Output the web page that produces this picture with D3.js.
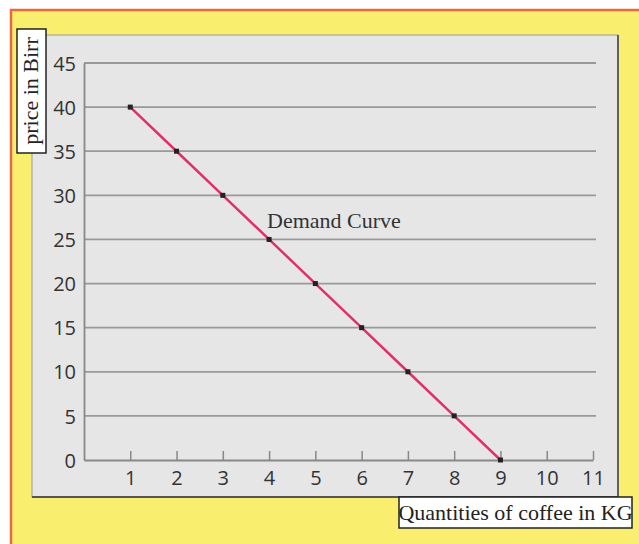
<!DOCTYPE html>
<html><head><meta charset="utf-8">
<script src="https://cdn.jsdelivr.net/npm/d3@7"></script>
<style>body{margin:0;background:#fff}svg{display:block}</style>
</head><body>
<script>
const quantities = [1,2,3,4,5,6,7,8,9];
const prices = [40,35,30,25,20,15,10,5,0];
const xTicks = [1,2,3,4,5,6,7,8,9,10,11];
const yTicks = [0,5,10,15,20,25,30,35,40,45];
const curveLabel = "Demand Curve";
const xTitle = "Quantities of coffee in KG";
const yTitle = "price in Birr";

const W=639,H=544;
const svg=d3.select("body").append("svg").attr("width",W).attr("height",H);
svg.append("rect").attr("x",11).attr("y",10).attr("width",W).attr("height",H).attr("fill","#f9ee6e").attr("stroke","#e8683c").attr("stroke-width",2.5);
svg.append("rect").attr("x",32).attr("y",35).attr("width",586).attr("height",462).attr("fill","#e6e6e6").attr("stroke","#9a9a9a").attr("stroke-width",1);
svg.append("path").attr("d","M618,35V497H32").attr("fill","none").attr("stroke","#555").attr("stroke-width",1.8);

const x=d3.scaleLinear().domain([0,11]).range([84,593]);
const y=d3.scaleLinear().domain([0,45]).range([460,63]);

svg.append("g").selectAll("line").data(yTicks.filter(d=>d>0)).join("line")
  .attr("x1",x(0)).attr("x2",596).attr("y1",d=>y(d)).attr("y2",d=>y(d))
  .attr("stroke","#999").attr("stroke-width",1.8);

const ya=svg.append("g").attr("transform",`translate(${x(0)},0)`)
  .call(d3.axisLeft(y).tickValues(yTicks).tickSize(0).tickPadding(8));
ya.attr("font-size",null).attr("font-family",null);
ya.select(".domain").attr("stroke","#888").attr("stroke-width",1.8);
ya.selectAll("text").attr("dy","0.36em").style("font-family","'Open Sans',sans-serif").style("font-size","20px").attr("fill","#333");

const xa=svg.append("g").attr("transform",`translate(0,${y(0)})`)
  .call(d3.axisTop(x).tickValues(xTicks).tickSize(9).tickSizeOuter(0));
xa.attr("font-size",null).attr("font-family",null);
xa.select(".domain").attr("stroke","#888").attr("stroke-width",1.8);
xa.selectAll(".tick line").attr("stroke","#888").attr("stroke-width",1.5);
xa.selectAll("text").attr("y",25).attr("dy",0).style("font-family","'Open Sans',sans-serif").style("font-size","20px").attr("fill","#333");

const pts=quantities.map((q,i)=>[q,prices[i]]);
svg.append("path").datum(pts).attr("d",d3.line().x(d=>x(d[0])).y(d=>y(d[1])))
  .attr("fill","none").attr("stroke","#e0306a").attr("stroke-width",2.5);
svg.append("g").selectAll("rect").data(pts).join("rect")
  .attr("x",d=>x(d[0])-2.5).attr("y",d=>y(d[1])-2.5).attr("width",5).attr("height",5).attr("fill","#222");

svg.append("text").attr("x",334).attr("y",228).attr("text-anchor","middle")
  .style("font-family","'Liberation Serif',serif").style("font-size","22px").attr("fill","#333").text(curveLabel);

svg.append("rect").attr("x",17).attr("y",29).attr("width",29).attr("height",124).attr("fill","#fff").attr("stroke","#222").attr("stroke-width",1.5);
svg.append("text").attr("transform","translate(38,91) rotate(-90)").attr("text-anchor","middle")
  .style("font-family","'Liberation Serif',serif").style("font-size","22px").attr("fill","#222").text(yTitle);

svg.append("rect").attr("x",399).attr("y",497).attr("width",233).attr("height",31).attr("fill","#fff").attr("stroke","#222").attr("stroke-width",1.5);
svg.append("text").attr("x",515.5).attr("y",520).attr("text-anchor","middle")
  .style("font-family","'Liberation Serif',serif").style("font-size","22px").attr("fill","#222").text(xTitle);
</script>
</body></html>
